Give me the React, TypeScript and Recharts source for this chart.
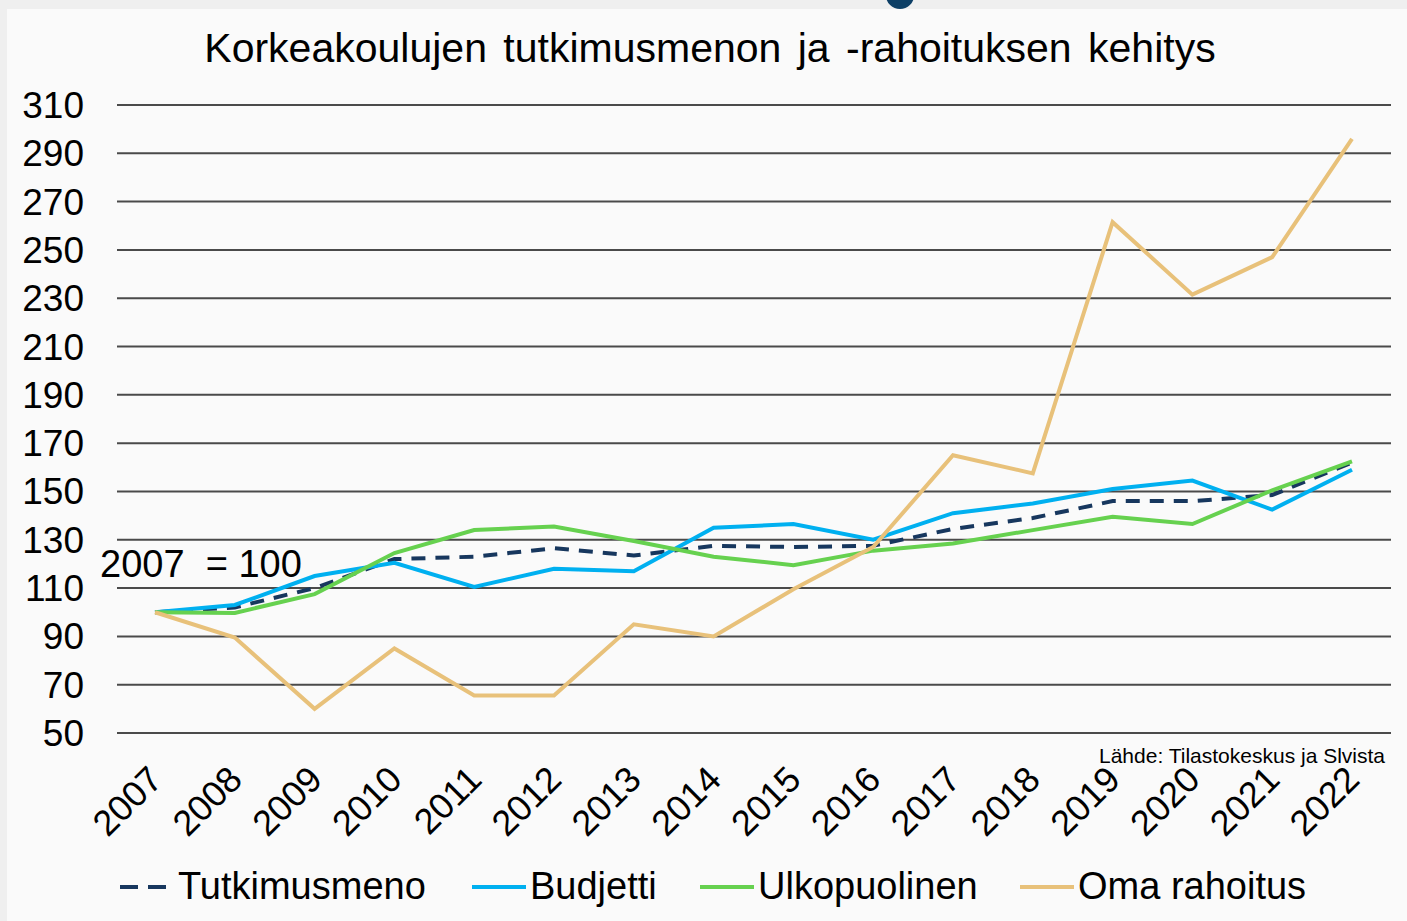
import { LineChart, Line, XAxis, YAxis, CartesianGrid } from "recharts";

const years = [
  "2007", "2008", "2009", "2010", "2011", "2012", "2013", "2014",
  "2015", "2016", "2017", "2018", "2019", "2020", "2021", "2022",
];
const tutkimusmeno = [100, 102, 110, 122, 123, 126.5, 123.5, 127.5, 127, 127.5, 134.5, 139, 146, 146, 148.5, 162];
const budjetti = [100, 103, 115, 120.5, 110.5, 118, 117, 135, 136.5, 130, 141, 145, 151, 154.5, 142.5, 159];
const ulkopuolinen = [100, 99.7, 107.5, 124.5, 134, 135.5, 129.5, 123, 119.5, 125.5, 128.5, 134, 139.5, 136.5, 150.5, 162.5];
const omaRahoitus = [100, 89.5, 60, 85, 65.5, 65.5, 95, 90, 109.5, 127, 165, 157.5, 261.5, 231.5, 247, 296];
const yTicks = [50, 70, 90, 110, 130, 150, 170, 190, 210, 230, 250, 270, 290, 310];

const data = years.map((year, i) => ({
  year,
  tutkimusmeno: tutkimusmeno[i],
  budjetti: budjetti[i],
  ulkopuolinen: ulkopuolinen[i],
  omaRahoitus: omaRahoitus[i],
}));

const FONT = '"Liberation Sans", Arial, sans-serif';

const series = [
  { key: "tutkimusmeno", name: "Tutkimusmeno", color: "#17375e", dash: "14 10", left: 120 },
  { key: "budjetti", name: "Budjetti", color: "#00b0f0", dash: undefined, left: 472 },
  { key: "ulkopuolinen", name: "Ulkopuolinen", color: "#66d14f", dash: undefined, left: 700 },
  { key: "omaRahoitus", name: "Oma rahoitus", color: "#e8c17a", dash: undefined, left: 1020 },
];

const YTick = ({ y, payload }: any) => (
  <text x={84} y={y} dy={13} textAnchor="end" fontSize={37} fill="#000" fontFamily={FONT}>
    {payload.value}
  </text>
);

const XTick = ({ x, payload }: any) => (
  <g transform={`translate(${x + 1},${773})`}>
    <text textAnchor="end" transform="rotate(-45)" dy={12} fontSize={36} fill="#000" fontFamily={FONT}>
      {payload.value}
    </text>
  </g>
);

export default function App() {
  return (
    <div style={{ position: "absolute", left: 0, top: 0, width: 1407, height: 921, background: "#efefef", overflow: "hidden", fontFamily: FONT }}>
      <div style={{ position: "absolute", left: 7, top: 9, width: 1400, height: 912, background: "#fafafa" }} />
      <div style={{ position: "absolute", left: 886, top: -18, width: 28, height: 27, borderRadius: "50%", background: "#0d3f66" }} />
      <div style={{ position: "absolute", left: 0, top: 25, width: 1420, textAlign: "center", fontSize: 41, wordSpacing: 5, color: "#000" }}>
        Korkeakoulujen tutkimusmenon ja -rahoituksen kehitys
      </div>
      <div style={{ position: "absolute", left: 0, top: 0 }}>
        <LineChart width={1407} height={921} data={data} margin={{ top: 105, right: 16, bottom: 88, left: 0 }}>
          <CartesianGrid vertical={false} stroke="#4a4a4a" strokeWidth={2} />
          <XAxis
            dataKey="year"
            axisLine={false}
            tickLine={false}
            height={100}
            interval={0}
            padding={{ left: 38, right: 39 }}
            tick={<XTick />}
          />
          <YAxis
            domain={[50, 310]}
            ticks={yTicks}
            width={117}
            axisLine={false}
            tickLine={false}
            tick={<YTick />}
          />
          {series.map((s) => (
            <Line
              key={s.key}
              type="linear"
              dataKey={s.key}
              stroke={s.color}
              strokeWidth={4}
              strokeDasharray={s.dash}
              dot={false}
              isAnimationActive={false}
            />
          ))}
        </LineChart>
      </div>
      <div style={{ position: "absolute", left: 100, top: 543, fontSize: 38, color: "#000", whiteSpace: "pre" }}>
        2007  = 100
      </div>
      <div style={{ position: "absolute", right: 22, top: 744, fontSize: 21, color: "#000" }}>
        Lähde: Tilastokeskus ja Slvista
      </div>
      {series.map((s) => (
        <div key={s.key} style={{ position: "absolute", left: s.left, top: 865, display: "flex", alignItems: "center", fontSize: 38, color: "#000" }}>
          <svg width={54} height={10} style={{ marginRight: 4 }}>
            <line x1={0} y1={5} x2={54} y2={5} stroke={s.color} strokeWidth={4} strokeDasharray={s.dash ? "18 10" : undefined} />
          </svg>
          <span>{s.name}</span>
        </div>
      ))}
    </div>
  );
}
